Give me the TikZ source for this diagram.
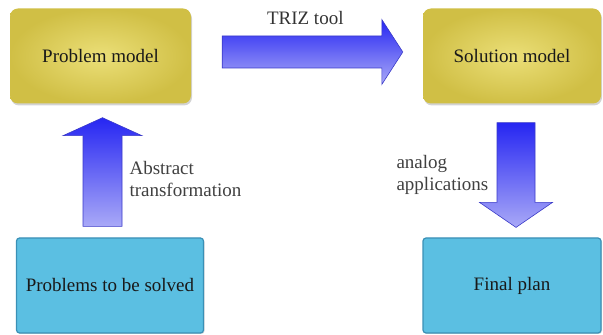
\documentclass[tikz,border=0pt]{standalone}
\usepackage{fontspec}
\setmainfont{Liberation Serif}
\newfontfamily\diagfont{Liberation Serif}
\usetikzlibrary{calc,shadows}
\definecolor{goldin}{HTML}{EBDF78}
\definecolor{goldout}{HTML}{D0BF45}
\definecolor{skyfill}{HTML}{5BBFE2}
\definecolor{skyline}{HTML}{3A90B6}
\definecolor{arrowtop}{HTML}{2626F2}
\definecolor{arrowbot}{HTML}{A9A9F7}
\definecolor{arrowline}{HTML}{3A3AC8}
\begin{document}
\begin{tikzpicture}[x=1pt,y=1pt,
  font=\diagfont\fontsize{19}{22}\selectfont,
  goldbox/.style={rectangle,rounded corners=8pt,inner color=goldin,outer color=goldout,
    minimum width=180pt,minimum height=95pt,text=black!90,
    drop shadow={shadow xshift=1pt,shadow yshift=-2pt,opacity=0.35}},
  skybox/.style={rectangle,rounded corners=3pt,fill=skyfill,draw=skyline,line width=1.2pt,
    minimum width=184pt,minimum height=95pt,text=black!90,
    drop shadow={shadow xshift=1pt,shadow yshift=-1pt,opacity=0.3}},
  arrowfill/.style={top color=arrowtop,bottom color=arrowbot,draw=arrowline,line width=0.6pt},
  note/.style={align=left,text=black!75}]
 		\useasboundingbox (0,0) rectangle (603,335);
 		% boxes
 		\node[goldbox,minimum width=181pt] (pm) at (100.5,279) {Problem model};
 		\node[goldbox,minimum width=178pt] (sm) at (512,279) {Solution model};
 		\node[skybox,minimum width=187pt] (ps) at (110,49.5) {Problems to be solved};
 		\node[skybox,minimum width=178pt] (fp) at (512,49.5) {Final plan};
 		% TRIZ tool arrow
 		\coordinate (h0) at ($(pm.east)+(31,4)$);
 		\coordinate (h1) at ($(sm.west)+(-20,4)$);
 		\shadedraw[arrowfill] ($(h0)+(0,-16)$) -- ($(h1)+(-21,-16)$) -- ($(h1)+(-21,-32.5)$)
 				-- (h1) -- ($(h1)+(-21,32.5)$) -- ($(h1)+(-21,16)$) -- ($(h0)+(0,16)$) -- cycle;
 		\node[text=black!80] (tt) at ($(h0)!0.46!(h1)+(0,34)$) {TRIZ tool};
 		% abstract transformation arrow
 		\coordinate (u0) at ($(ps.north)+(-7.5,11)$);
 		\coordinate (u1) at ($(pm.south)+(2,-14)$);
 		\shadedraw[arrowfill] ($(u0)+(-19.5,0)$) -- ($(u1)+(-19.5,-18)$) -- ($(u1)+(-39.5,-18)$)
 				-- (u1) -- ($(u1)+(39.5,-18)$) -- ($(u1)+(19.5,-18)$) -- ($(u0)+(19.5,0)$) -- cycle;
 		\node[note,anchor=west] (at) at (126,156) {Abstract\\transformation};
 		% analog applications arrow
 		\coordinate (d0) at ($(sm.south)+(4,-19)$);
 		\coordinate (d1) at ($(fp.north)+(4,10)$);
 		\shadedraw[arrowfill] ($(d0)+(-19,0)$) -- ($(d1)+(-19,25)$) -- ($(d1)+(-36.5,25)$)
 				-- (d1) -- ($(d1)+(36.5,25)$) -- ($(d1)+(19,25)$) -- ($(d0)+(19,0)$) -- cycle;
 		\node[note,anchor=west] (aa) at (393,160) {analog\\applications};
\end{tikzpicture}
\end{document}
